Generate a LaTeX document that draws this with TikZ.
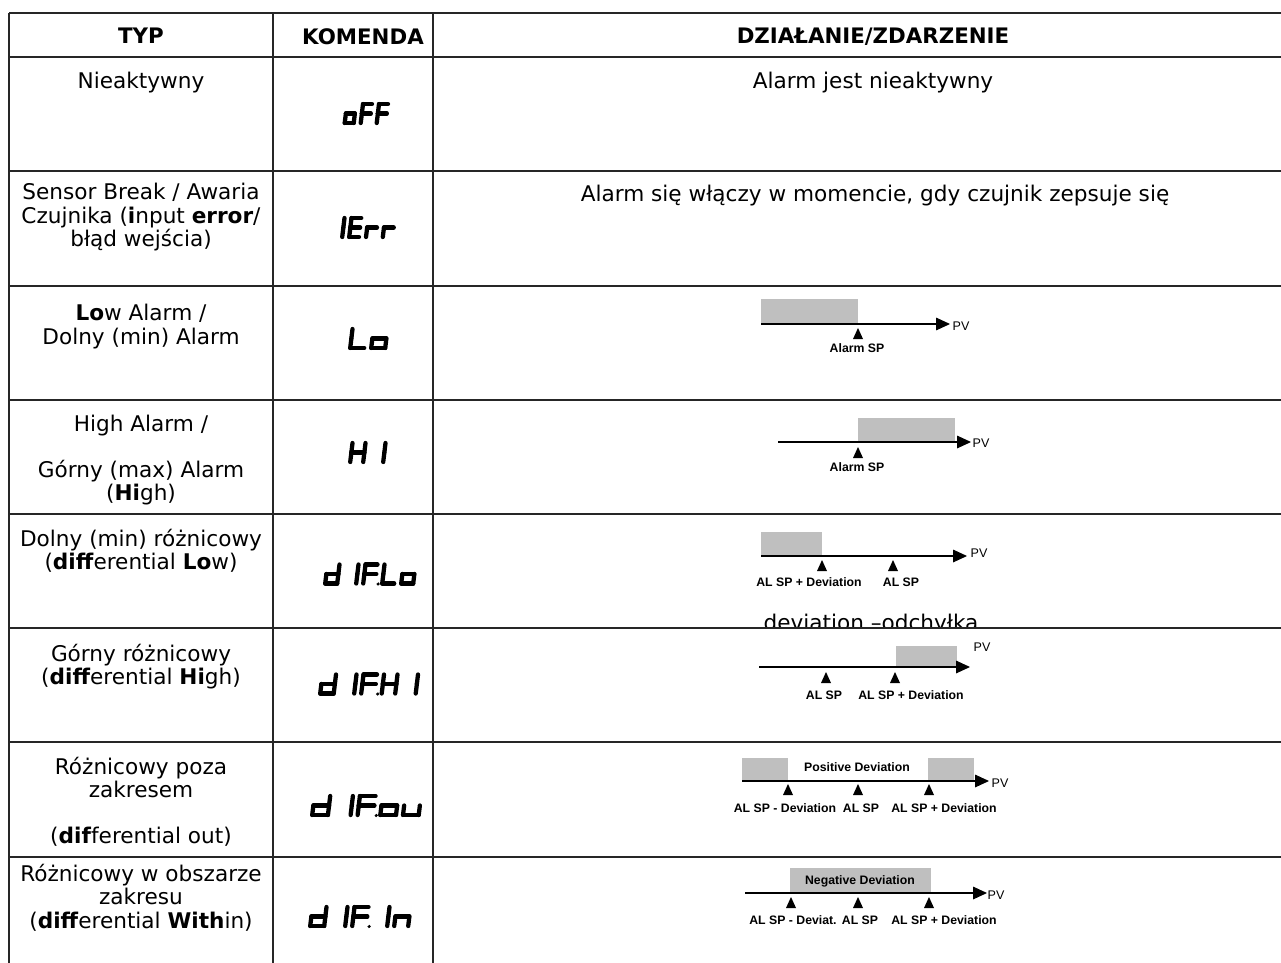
\documentclass[tikz,border=0pt]{standalone}
\usepackage{fontspec}
\setmainfont{DejaVu Sans}
\newfontfamily\arialfont{Liberation Sans}
\usetikzlibrary{arrows.meta}

% seven segment glyphs: segments a..g, p = decimal point
\def\lcdsego{c,d,e,g}
\def\lcdsegF{a,e,f,g}
\def\lcdsegFp{a,e,f,g,p}
\def\lcdsegE{a,d,e,f,g}
\def\lcdsegr{e,g}
\def\lcdsegL{d,e,f}
\def\lcdsegH{b,c,e,f,g}
\def\lcdsegI{b,c}
\def\lcdsegd{b,c,d,e,g}
\def\lcdsegu{c,d,e}
\def\lcdsegn{c,e,g}

% #1 = pitch, #2 = x, #3 = y (top), #4 = glyphs
\newcommand{\lcdword}[4][19]{%
  \pgfmathsetmacro\lcdw{#1-7}
  \pgfmathsetmacro\lcdp{#1-4}
  \foreach \gl [count=\i from 0] in {#4} {
    \edef\seglist{\csname lcdseg\gl\endcsname}
    \begin{scope}[shift={(#2+#1*\i,#3)}, xslant=0.12]
      \foreach \s in \seglist {
        \if a\s \draw[lcd] (0,0) -- (\lcdw,0); \fi
        \if b\s \draw[lcd] (\lcdw,0) -- (\lcdw,9.5); \fi
        \if c\s \draw[lcd] (\lcdw,9.5) -- (\lcdw,19); \fi
        \if d\s \draw[lcd] (0,19) -- (\lcdw,19); \fi
        \if e\s \draw[lcd] (0,9.5) -- (0,19); \fi
        \if f\s \draw[lcd] (0,0) -- (0,9.5); \fi
        \if g\s \draw[lcd] (0,9.5) -- (\lcdw,9.5); \fi
        \if p\s \fill (\lcdp,19.5) circle (1.3pt); \fi
      }
    \end{scope}
  }%
}

% set point marker below the axis
\newcommand{\spmark}[2]{\fill (#1,#2) -- ++(5,11) -- ++(-10,0) -- cycle;}

\begin{document}
\begin{tikzpicture}[x=0.75pt, y=-0.75pt,
    grid/.style={draw=black!85, line width=0.9pt},
    cell/.style={anchor=north, align=center, inner sep=0pt, font=\fontsize{16.2}{17.5}\selectfont},
    head/.style={cell, font=\fontsize{16}{17.5}\selectfont\bfseries},
    lcd/.style={line width=3.2pt, line cap=round, line join=round},
    zone/.style={fill=black!25},
    axis/.style={draw=black, line width=0.8pt, -{Triangle[length=10.5pt, width=9.5pt]}},
    pv/.style={font=\arialfont\fontsize{9.4}{11}\selectfont, inner sep=0pt},
    sp/.style={font=\arialfont\bfseries\fontsize{9.2}{11}\selectfont, inner sep=0pt}]

    \useasboundingbox (0,0) rectangle (1281,963);
    \fill[white] (0,0) rectangle (1281,963);

    % Header
    \node[head] (typ) at (141,28) {TYP};
    \node[head] (komenda) at (363,28) {KOMENDA};
    \node[head] (dzialanie) at (873,28) {DZIAŁANIE/ZDARZENIE};

    % Types
    \node[cell] (off) at (141,72) {Nieaktywny};
    \node[cell] (ierr) at (141,183) {Sensor Break / Awaria\\Czujnika (\textbf{i}nput \textbf{error}/\\błąd wejścia)};
    \node[cell] (lo) at (141,304) {\textbf{Lo}w Alarm /\\Dolny (min) Alarm};
    \node[cell] (hi) at (141,415) {High Alarm /\\[16.5pt]Górny (max) Alarm\\(\textbf{Hi}gh)};
    \node[cell] (diflo) at (141,529) {Dolny (min) różnicowy\\(\textbf{diff}erential \textbf{Lo}w)};
    \node[cell] (difhi) at (141,644) {Górny różnicowy\\(\textbf{diff}erential \textbf{Hi}gh)};
    \node[cell] (difou) at (141,757) {Różnicowy poza\\zakresem\\[16.5pt](\textbf{dif}ferential out)};
    \node[cell] (difin) at (141,864) {Różnicowy w obszarze\\zakresu\\(\textbf{diff}erential \textbf{With}in)};

    % Commands
    \lcdword[16]{347}{104}{o,F,F}
    \lcdword[16.8]{334.7}{218}{I,E,r,r}
    \lcdword[21]{352.5}{329}{L,o}
    \lcdword[20]{352.5}{443}{H,I}
    \lcdword[19]{327.5}{564.5}{d,I,Fp,L,o}
    \lcdword[20.5]{322.5}{674.5}{d,I,Fp,H,I}
    \lcdword[22.7]{314.5}{796}{d,I,Fp,o,u}
    \lcdword[21]{312.5}{907}{d,I,Fp,I,n}

    % Actions
    \node[cell] (offtxt) at (873,72) {Alarm jest nieaktywny};
    \node[cell] (ierrtxt) at (875,185) {Alarm się włączy w momencie, gdy czujnik zepsuje się};

    % Lo
    \fill[zone] (761,299) rectangle (858,324);
    \coordinate (lo0) at (761,324);
    \coordinate (lo1) at (950,324);
    \draw[axis] (lo0) -- (lo1);
    \node[pv] (lopv) at (961,326) {PV};
    \spmark{858}{328}
    \node[sp] (losp) at (857,348) {Alarm SP};

    % Hi
    \fill[zone] (858,418) rectangle (955,442);
    \coordinate (hi0) at (778,442);
    \coordinate (hi1) at (971,442);
    \draw[axis] (hi0) -- (hi1);
    \node[pv] (hipv) at (981,443) {PV};
    \spmark{858}{447}
    \node[sp] (hisp) at (857,467) {Alarm SP};

    % dif Lo
    \fill[zone] (761,532) rectangle (822,556);
    \coordinate (dl0) at (761,556);
    \coordinate (dl1) at (967,556);
    \draw[axis] (dl0) -- (dl1);
    \node[pv] (dlpv) at (979,553) {PV};
    \spmark{822}{560}
    \spmark{893}{560}
    \node[sp] (dldev) at (809,582) {AL SP + Deviation};
    \node[sp] (dlsp) at (901,582) {AL SP};
    \begin{scope}
        \clip (433,520) rectangle (1281,628);
        \node[anchor=base, inner sep=0pt, font=\fontsize{16.2}{17.5}\selectfont] (devnote) at (871,630) {deviation –odchyłka};
    \end{scope}

    % dif Hi
    \fill[zone] (896,646) rectangle (957,667);
    \coordinate (dh0) at (759,667);
    \coordinate (dh1) at (970,667);
    \draw[axis] (dh0) -- (dh1);
    \node[pv] (dhpv) at (982,647) {PV};
    \spmark{826}{672}
    \spmark{895}{672}
    \node[sp] (dhsp) at (824,695) {AL SP};
    \node[sp] (dhdev) at (911,695) {AL SP + Deviation};

    % dif out
    \fill[zone] (742,758) rectangle (788,781);
    \fill[zone] (928,758) rectangle (974,781);
    \coordinate (do0) at (742,781);
    \coordinate (do1) at (989,781);
    \draw[axis] (do0) -- (do1);
    \node[pv] (dopv) at (1000,783) {PV};
    \node[sp] (dopos) at (857,767) {Positive Deviation};
    \spmark{788}{784}
    \spmark{858}{784}
    \spmark{929}{784}
    \node[sp] (dominus) at (785,808) {AL SP - Deviation};
    \node[sp] (dosp) at (861,808) {AL SP};
    \node[sp] (doplus) at (944,808) {AL SP + Deviation};

    % dif in
    \fill[zone] (790,868) rectangle (931,893);
    \node[sp] (dineg) at (860,881) {Negative Deviation};
    \coordinate (di0) at (745,893);
    \coordinate (di1) at (987,893);
    \draw[axis] (di0) -- (di1);
    \node[pv] (dipv) at (996,895) {PV};
    \spmark{791}{897}
    \spmark{858}{897}
    \spmark{929}{897}
    \node[sp] (diminus) at (793,920) {AL SP - Deviat.};
    \node[sp] (disp) at (860,920) {AL SP};
    \node[sp] (diplus) at (944,920) {AL SP + Deviation};

    % Table lines
    \foreach \y in {13,57,171,286,400,514,628,742,857}
        \draw[grid] (9,\y) -- (1281,\y);
    \foreach \x in {9,273,433}
        \draw[grid] (\x,13) -- (\x,963);

\end{tikzpicture}
\end{document}
